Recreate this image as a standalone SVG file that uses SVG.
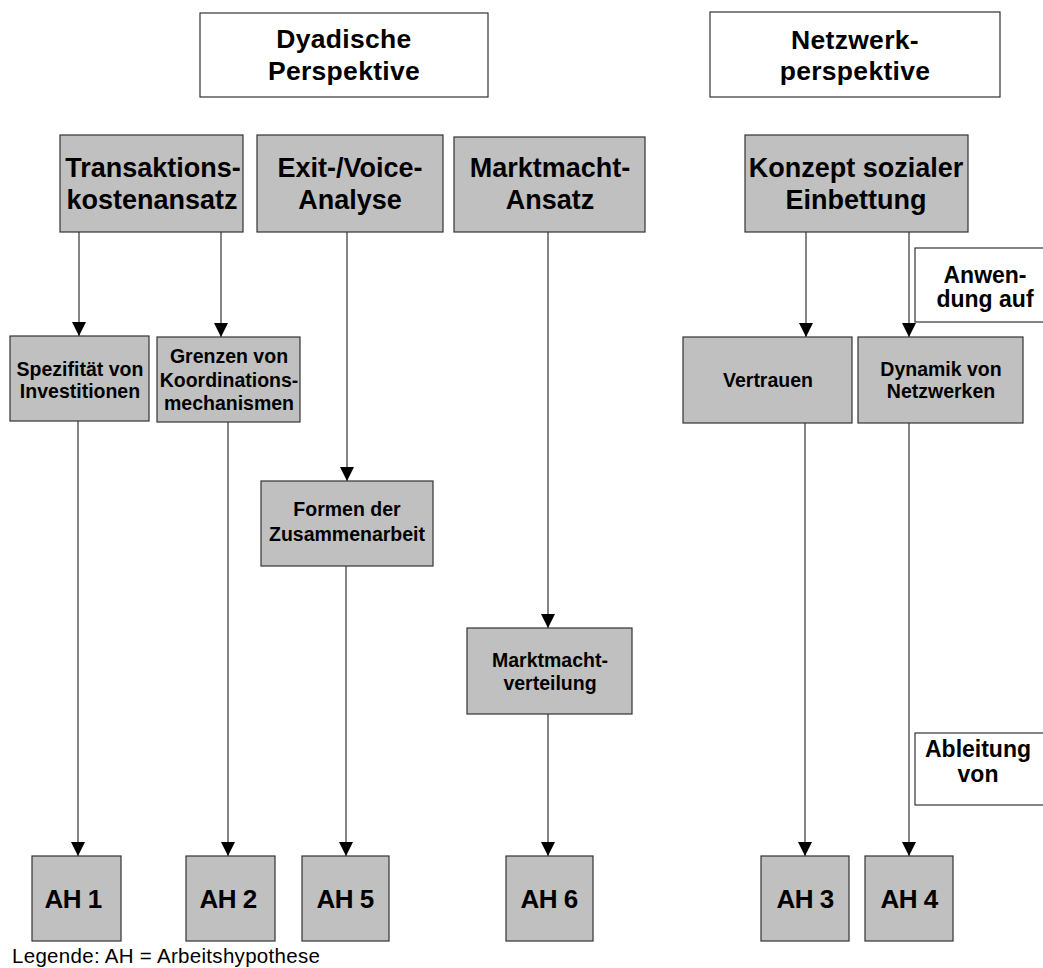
<svg xmlns="http://www.w3.org/2000/svg" width="1043" height="968" viewBox="0 0 1043 968">
<style>
.n{fill:#c0c0c0;stroke:#333;stroke-width:1.2}
.w{fill:#fff;stroke:#333;stroke-width:1.2}
text{font-family:"Liberation Sans",Arial,sans-serif;font-weight:bold;fill:#000;text-anchor:middle}
.big{font-size:27px}
.ttl{font-size:26.5px;letter-spacing:0.3px}
.lbl{font-size:23px}
.sm{font-size:19.5px}
.ah{font-size:26px;letter-spacing:-0.5px}
.leg{font-weight:normal;font-size:20.5px;text-anchor:start;letter-spacing:0.3px}
.c{fill:none;stroke:#333;stroke-width:1.2;marker-end:url(#ar)}
</style>
<defs>
<marker id="ar" markerUnits="userSpaceOnUse" markerWidth="15" markerHeight="15" refX="14" refY="7" orient="auto">
<path d="M0,0 L14,7 L0,14 z" fill="#000"/>
</marker>
</defs>
<rect width="1043" height="968" fill="#fff"/>
<g id="connectors">
<path class="c" d="M79,232 V336"/>
<path class="c" d="M221,232 V337"/>
<path class="c" d="M347,232 V481"/>
<path class="c" d="M548,232 V628"/>
<path class="c" d="M806,232 V337"/>
<path class="c" d="M909,232 V337"/>
<path class="c" d="M78,421 V856"/>
<path class="c" d="M228,422 V856"/>
<path class="c" d="M346,566 V856"/>
<path class="c" d="M548,714 V856"/>
<path class="c" d="M805,423 V856"/>
<path class="c" d="M909,423 V856"/>
</g>
<g id="dyadisch">
<rect class="w" x="200" y="13" width="288" height="84"/>
<text class="ttl" x="344" y="48">Dyadische</text>
<text class="ttl" x="344" y="80">Perspektive</text>
</g>
<g id="netzwerk">
<rect class="w" x="710" y="12" width="290" height="85"/>
<text class="ttl" x="855" y="49">Netzwerk-</text>
<text class="ttl" x="855" y="80">perspektive</text>
</g>
<g id="transaktion">
<rect class="n" x="60" y="135" width="183" height="97"/>
<text class="big" x="153" y="177">Transaktions-</text>
<text class="big" x="152" y="209">kostenansatz</text>
</g>
<g id="exitvoice">
<rect class="n" x="257" y="135" width="186" height="97"/>
<text class="big" x="350" y="177">Exit-/Voice-</text>
<text class="big" x="350" y="209">Analyse</text>
</g>
<g id="marktmacht">
<rect class="n" x="454" y="137" width="191" height="95"/>
<text class="big" x="550" y="177">Marktmacht-</text>
<text class="big" x="550" y="209">Ansatz</text>
</g>
<g id="konzept">
<rect class="n" x="745" y="135" width="223" height="97"/>
<text class="big" x="856" y="177">Konzept sozialer</text>
<text class="big" x="856" y="209">Einbettung</text>
</g>
<g id="spezifitaet">
<rect class="n" x="10" y="336" width="139" height="85"/>
<text class="sm" x="80" y="376">Spezifität von</text>
<text class="sm" x="80" y="398">Investitionen</text>
</g>
<g id="grenzen">
<rect class="n" x="157" y="337" width="143" height="85"/>
<text class="sm" x="229" y="363">Grenzen von</text>
<text class="sm" x="229" y="387">Koordinations-</text>
<text class="sm" x="229" y="410">mechanismen</text>
</g>
<g id="formen">
<rect class="n" x="261" y="481" width="172" height="85"/>
<text class="sm" x="347" y="516">Formen der</text>
<text class="sm" x="347" y="541">Zusammenarbeit</text>
</g>
<g id="marktmachtverteilung">
<rect class="n" x="467" y="628" width="165" height="86"/>
<text class="sm" x="550" y="667">Marktmacht-</text>
<text class="sm" x="550" y="690">verteilung</text>
</g>
<g id="vertrauen">
<rect class="n" x="683" y="337" width="169" height="86"/>
<text class="sm" x="768" y="387">Vertrauen</text>
</g>
<g id="dynamik">
<rect class="n" x="858" y="337" width="165" height="86"/>
<text class="sm" x="941" y="376">Dynamik von</text>
<text class="sm" x="941" y="398">Netzwerken</text>
</g>
<g id="anwendung">
<rect class="w" x="915" y="248" width="140" height="74"/>
<text class="lbl" x="985" y="283">Anwen-</text>
<text class="lbl" x="985" y="307">dung auf</text>
</g>
<g id="ableitung">
<rect class="w" x="915" y="733" width="140" height="72"/>
<text class="lbl" x="978" y="757">Ableitung</text>
<text class="lbl" x="978" y="782">von</text>
</g>
<g id="ah1"><rect class="n" x="32" y="856" width="89" height="85"/><text class="ah" x="73" y="908">AH 1</text></g>
<g id="ah2"><rect class="n" x="186" y="856" width="89" height="85"/><text class="ah" x="228" y="908">AH 2</text></g>
<g id="ah5"><rect class="n" x="302" y="856" width="87" height="85"/><text class="ah" x="345" y="908">AH 5</text></g>
<g id="ah6"><rect class="n" x="506" y="856" width="87" height="85"/><text class="ah" x="549" y="908">AH 6</text></g>
<g id="ah3"><rect class="n" x="761" y="856" width="88" height="85"/><text class="ah" x="805" y="908">AH 3</text></g>
<g id="ah4"><rect class="n" x="865" y="856" width="88" height="85"/><text class="ah" x="909" y="908">AH 4</text></g>
<text class="leg" x="12" y="963">Legende: AH = Arbeitshypothese</text>
</svg>
